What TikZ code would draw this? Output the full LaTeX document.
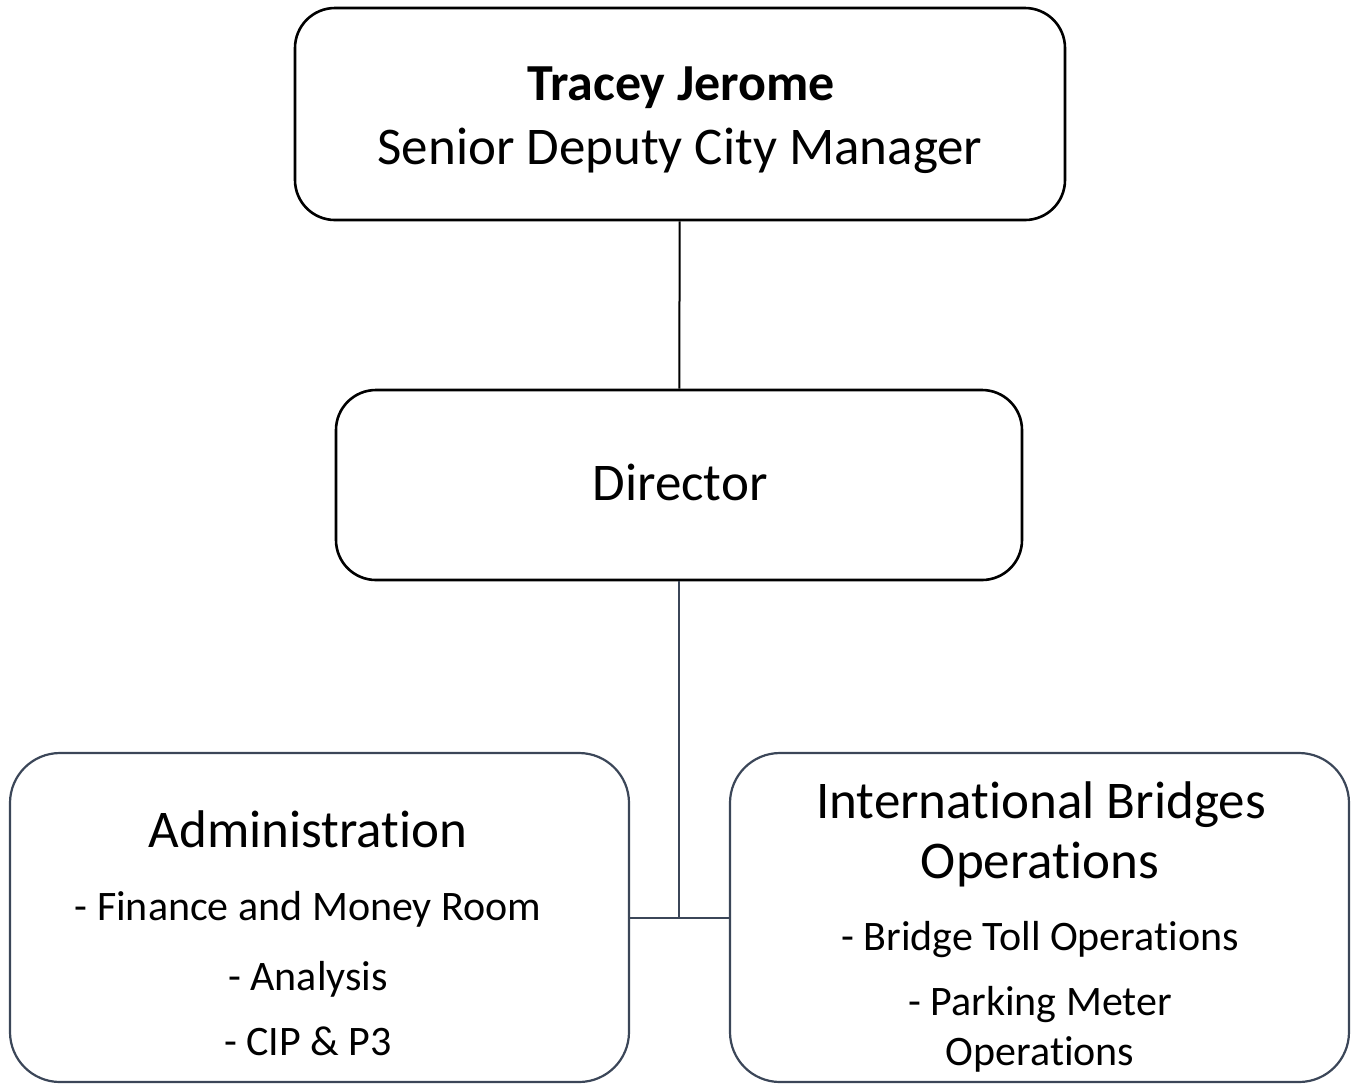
\documentclass[tikz,border=0pt]{standalone}
\usepackage{fontspec}
\setmainfont{Carlito}[Ligatures={NoCommon}]
\definecolor{slate}{HTML}{3B4658}
\begin{document}
\begin{tikzpicture}[x=0.5pt,y=-0.5pt]
    \tikzset{box/.style = {shape = rectangle,draw=black,line width=1.3pt,inner sep = 0pt}, lowbox/.style = {box,draw=slate,line width=1.1pt,rounded corners=25pt,minimum width=309.5pt,minimum height=164.5pt}, edge/.style = {line width=1pt}, big/.style = {anchor=base,font=\fontsize{26.5}{30}\selectfont}, small/.style = {anchor=base,font=\fontsize{21}{25}\selectfont}}
    \useasboundingbox (0,0) rectangle (1351,1084);
     \node[box,rounded corners=20pt,minimum width=385pt,minimum height=106pt] (Top) at (680,114) {};
     \node[box,rounded corners=20pt,minimum width=343pt,minimum height=95pt] (Dir) at (679,485) {};
     \node[lowbox] (Adm) at (319.5,917.5) {};
     \node[lowbox] (Ibo) at (1039.5,917.5) {};

     \node[big,font=\fontsize{26}{30}\selectfont\bfseries] (TopA) at (681,100) {Tracey Jerome};
     \node[big] (TopB) at (680,164) {Senior Deputy City Manager};
     \node[big] (DirA) at (680,500) {Director};
     \node[big] (AdmA) at (308,847) {Administration};
     \node[small] (AdmB) at (308,920) {- Finance and Money Room};
     \node[small] (AdmC) at (308,990) {- Analysis};
     \node[small] (AdmD) at (308,1055) {- CIP \& P3};
     \node[big] (IboA) at (1041,818) {International Bridges};
     \node[big] (IboB) at (1040,878) {Operations};
     \node[small] (IboC) at (1040,950) {- Bridge Toll Operations};
     \node[small] (IboD) at (1040,1015) {- Parking Meter};
     \node[small] (IboE) at (1040,1065) {Operations};

     \coordinate (J) at (Dir.south |- Adm.east);
     \draw[edge](Top) --(Dir);
     \draw[edge,draw=slate](Dir) --(J);
     \draw[edge,draw=slate](Adm.east) --(Ibo.west);
\end{tikzpicture}
\end{document}
